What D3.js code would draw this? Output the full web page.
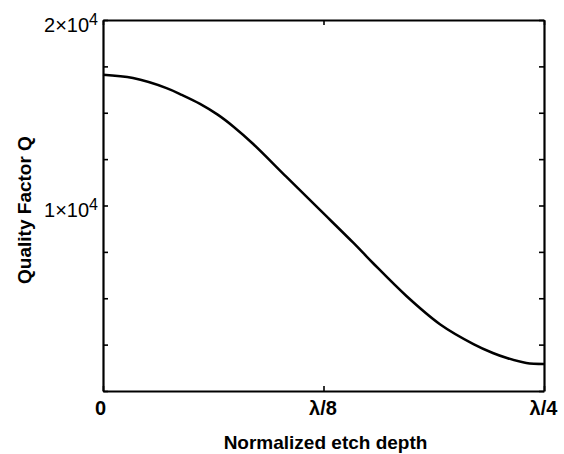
<!DOCTYPE html>
<html>
<head>
<meta charset="utf-8">
<script src="https://cdn.jsdelivr.net/npm/d3@7"></script>
<style>
  body { margin: 0; background: #fff; }
  text { font-family: "Liberation Sans", Arial, sans-serif; fill: #000; }
</style>
</head>
<body>
<div id="display"></div>
<script>
// etch depth in units of lambda, quality factor Q
const depth = [0, 0.017, 0.036, 0.045, 0.055, 0.065, 0.074, 0.085, 0.104, 0.123,
               0.142, 0.153, 0.172, 0.191, 0.21, 0.221, 0.229, 0.24, 0.25]
const quality = [17050, 16870, 16330, 15950, 15480, 14900, 14250, 13330, 11540, 9760,
                 7980, 6900, 5120, 3600, 2530, 2050, 1780, 1510, 1460]

const xTicks = [0, 0.125, 0.25]
const xTickLabels = ["0", "\u03bb/8", "\u03bb/4"]
const yTicks = [0, 2500, 5000, 7500, 10000, 12500, 15000, 17500, 20000]
const yLabelled = [10000, 20000]

function chart(parentNode)
{
  let width = 564
  let height = 454
  let margin = {top: 20, right: 20, bottom: 63, left: 103}

  let x = d3.scaleLinear([0, 0.25], [margin.left, width - margin.right])
  let y = d3.scaleLinear([0, 20000], [height - margin.bottom, margin.top])

  const svg = d3.create("svg")
      .attr("width", width)
      .attr("height", height)
      .attr("viewBox", [0, 0, width, height])

  const styleAxis = g => {
    g.select(".domain").attr("stroke-width", 2.2)
    g.selectAll(".tick line").attr("stroke-width", 1.6)
  }

  // left axis, ticks pointing inward
  const left = svg.append("g")
      .attr("transform", `translate(${margin.left},0)`)
      .call(d3.axisLeft(y).tickValues(yTicks).tickSize(-5).tickSizeOuter(0).tickFormat(() => ""))
      .call(styleAxis)

  left.selectAll(".tick")
    .filter(d => yLabelled.includes(d))
    .append("text")
      .attr("x", -5)
      .attr("y", 11)
      .attr("text-anchor", "end")
      .attr("font-size", 20)
      .call(t => t.append("tspan").text(d => `${d / 10000}\u00d710`))
      .call(t => t.append("tspan").attr("dy", -7).attr("font-size", 16).text("4"))

  svg.append("g")
      .attr("transform", `translate(${width - margin.right},0)`)
      .call(d3.axisRight(y).tickValues(yTicks).tickSize(-5).tickSizeOuter(0).tickFormat(() => ""))
      .call(styleAxis)

  // bottom axis
  const bottom = svg.append("g")
      .attr("transform", `translate(0,${height - margin.bottom})`)
      .call(d3.axisBottom(x).tickValues(xTicks).tickSize(-5).tickSizeOuter(0).tickFormat(() => ""))
      .call(styleAxis)

  bottom.selectAll(".tick")
    .append("text")
      .attr("x", (d, i) => i === 0 ? -3 : -1)
      .attr("y", 24)
      .attr("text-anchor", "middle")
      .attr("font-size", 20)
      .attr("font-weight", "bold")
      .text((d, i) => xTickLabels[i])

  svg.append("g")
      .attr("transform", `translate(0,${margin.top})`)
      .call(d3.axisTop(x).tickValues(xTicks).tickSize(-5).tickSizeOuter(0).tickFormat(() => ""))
      .call(styleAxis)

  // the curve
  svg.append("path")
      .datum(depth.map((d, i) => [d, quality[i]]))
      .attr("fill", "none")
      .attr("stroke", "#000")
      .attr("stroke-width", 2.5)
      .attr("stroke-linejoin", "round")
      .attr("d", d3.line(d => x(d[0]), d => y(d[1])).curve(d3.curveCatmullRom.alpha(0.5)))

  // axis titles
  svg.append("text")
      .attr("x", (margin.left + width - margin.right) / 2 + 2)
      .attr("y", 449)
      .attr("text-anchor", "middle")
      .attr("font-size", 19)
      .attr("font-weight", "bold")
      .text("Normalized etch depth")

  svg.append("text")
      .attr("transform", "translate(31,210) rotate(-90)")
      .attr("text-anchor", "middle")
      .attr("font-size", 19)
      .attr("font-weight", "bold")
      .text("Quality Factor Q")

  parentNode.appendChild(svg.node())
}

document.addEventListener("DOMContentLoaded", () => {
  chart(document.getElementById("display"))
})
</script>
</body>
</html>
